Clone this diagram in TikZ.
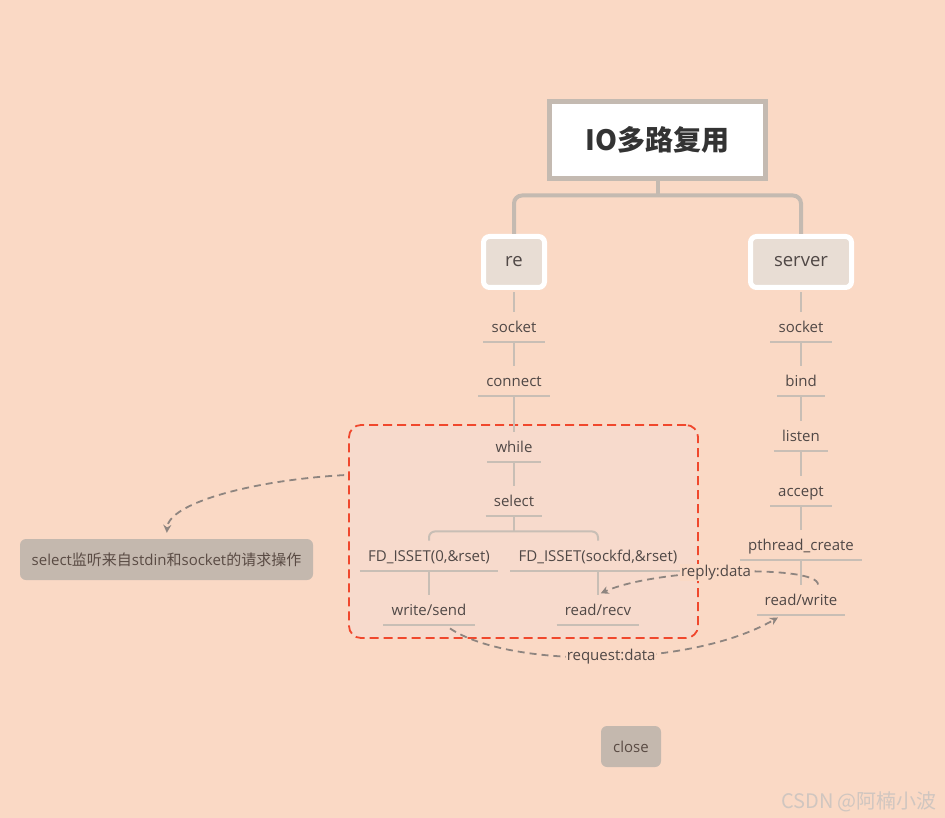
\documentclass[tikz,border=0pt]{standalone}
\usepackage{fontspec}
\setmainfont{Open Sans}
\newfontfamily\cjk{Noto Sans CJK SC}
\usepackage{xcolor}
\usepackage{tikz}
\usetikzlibrary{arrows.meta, positioning, calc}

\definecolor{paper}{RGB}{250,217,197}
\definecolor{loopfill}{RGB}{247,218,204}
\definecolor{rootgray}{RGB}{196,186,177}
\definecolor{stemgray}{RGB}{200,190,181}
\definecolor{branchfill}{RGB}{232,221,212}
\definecolor{labeltext}{RGB}{80,72,70}
\definecolor{titletext}{RGB}{51,51,51}
\definecolor{notefill}{RGB}{196,184,174}
\definecolor{notetext}{RGB}{90,75,68}
\definecolor{loopred}{RGB}{240,72,45}
\definecolor{flowgray}{RGB}{142,133,128}
\definecolor{markgray}{RGB}{208,198,192}

\begin{document}
\begin{tikzpicture}[x=1pt, y=-1pt,
        title/.style={rectangle, draw=rootgray, line width=5pt, fill=white, minimum width=216pt, minimum height=77pt, font=\cjk\fontsize{28}{30}\selectfont\bfseries, text=titletext},
        branch/.style={rectangle, draw=white, line width=5pt, fill=branchfill, rounded corners=6pt, minimum height=51pt, font=\fontsize{18.5}{20}\selectfont, text=labeltext},
        stem/.style={draw=stemgray, line width=2pt},
        trunk/.style={draw=rootgray, line width=4pt},
        op/.style={inner xsep=8pt, inner ysep=8.5pt, text height=12.5pt, text depth=1pt, font=\fontsize{15}{17}\selectfont, text=labeltext,
            append after command={(\tikzlastnode.south west) edge[stem] (\tikzlastnode.south east)}},
        loopregion/.style={rectangle, draw=loopred, line width=1.8pt, dash pattern=on 9pt off 5pt, rounded corners=12pt, fill=loopfill},
        note/.style={rectangle, fill=notefill, rounded corners=6pt, minimum height=41pt, font=\fontsize{15}{17}\selectfont, text=notetext},
        flow/.style={draw=flowgray, line width=1.8pt, dash pattern=on 7pt off 5pt, -{Stealth[length=8pt, width=8pt]}},
        flowlabel/.style={fill=paper, inner sep=1pt, font=\fontsize{15}{17}\selectfont, text=labeltext}
    ]
        % Canvas
        \fill[paper] (0,0) rectangle (945,818);
        \useasboundingbox (0,0) rectangle (945,818);

        % Loop region
        \node[loopregion, minimum width=349pt, minimum height=213pt] (loopbox) at (523.5,531.5) {};

        % Root and branches
        \node[title] (root) at (657.5,140) {IO多路复用};
        \node[branch, minimum width=61pt] (cli) at (514,262) {re};
        \node[branch, minimum width=101pt] (srv) at (801,262) {server};

        % Client side
        \node[op] (csock) at (514,327) {socket};
        \node[op] (cconn) at (514,381) {connect};
        \node[op] (cwhile) at (514,447) {while};
        \node[op] (csel) at (514,501) {select};
        \node[op] (cset0) at (429,556) {FD\_ISSET(0,\&rset)};
        \node[op] (csetfd) at (598,556) {FD\_ISSET(sockfd,\&rset)};
        \node[op] (cwrite) at (429,610) {write/send};
        \node[op] (cread) at (598,610) {read/recv};

        % Server side
        \node[op] (ssock) at (801,327) {socket};
        \node[op] (sbind) at (801,381) {bind};
        \node[op] (slisten) at (801,436) {listen};
        \node[op] (saccept) at (801,491) {accept};
        \node[op] (sthread) at (801,545) {pthread\_create};
        \node[op] (srw) at (801,600) {read/write};

        % Notes
        \node[note, minimum width=293pt] (note) at (166.5,559.5) {select{\cjk 监听来自}stdin{\cjk 和}socket{\cjk 的请求操作}};
        \node[note, minimum width=60pt] (close) at (631,746.5) {close};
        \node[font=\cjk\fontsize{20}{22}\selectfont, text=markgray] (mark) at (859,802) {CSDN @阿楠小波};

        % Tree lines
        \coordinate (fork) at ([yshift=-14.5pt]root.south);
        \draw[trunk] (root.south) -- (fork);
        \draw[trunk, rounded corners=8pt] (cli.north) |- (fork) -| (srv.north);

        \draw[stem, shorten <=2.5pt] (cli.south) -- (csock.north);
        \draw[stem] (csock.south) -- (cconn.north);
        \draw[stem] (cconn.south) -- (cwhile.north);
        \draw[stem] (cwhile.south) -- (csel.north);
        \coordinate (sfork) at ([yshift=-15pt]csel.south);
        \draw[stem] (csel.south) -- (sfork);
        \draw[stem, rounded corners=6pt] (cset0.north) |- (sfork) -| (csetfd.north);
        \draw[stem] (cset0.south) -- (cwrite.north);
        \draw[stem] (csetfd.south) -- (cread.north);

        \draw[stem, shorten <=2.5pt] (srv.south) -- (ssock.north);
        \draw[stem] (ssock.south) -- (sbind.north);
        \draw[stem] (sbind.south) -- (slisten.north);
        \draw[stem] (slisten.south) -- (saccept.north);
        \draw[stem] (saccept.south) -- (sthread.north);
        \draw[stem] (sthread.south) -- (srw.north);

        % Data flows
        \draw[flow, shorten >=6pt] ([xshift=-4pt, yshift=-51pt]loopbox.north west) .. controls +(-90,5) and +(2,-36) .. (note.north);
        \draw[flow] ([xshift=21pt, yshift=-3pt]cwrite.south) .. controls +(60,40) and +(-88,51) .. node[flowlabel, pos=0.52] {request:data} ([xshift=-23pt, yshift=-2pt]srw.south);
        \draw[flow, shorten >=3pt] ([xshift=17pt]srw.north) .. controls +(0,-20) and +(60,-27) .. node[flowlabel, pos=0.55] {reply:data} (cread.north);

    \end{tikzpicture}
\end{document}
